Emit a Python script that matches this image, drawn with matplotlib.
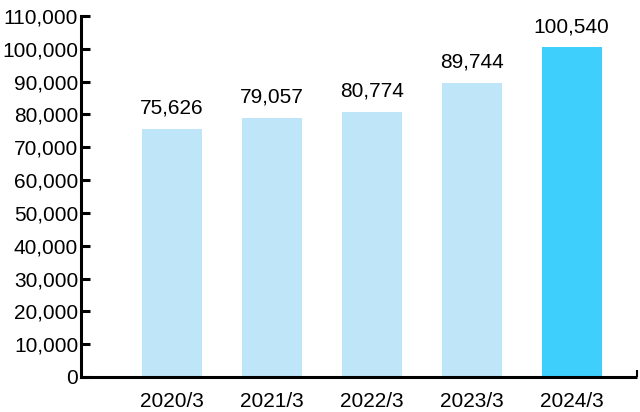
import matplotlib
matplotlib.use("Agg")
import matplotlib.pyplot as plt
from matplotlib.ticker import FuncFormatter, MultipleLocator

years = ["2020/3", "2021/3", "2022/3", "2023/3", "2024/3"]
values = [75626, 79057, 80774, 89744, 100540]
bar_colors = ["#bee5f8", "#bee5f8", "#bee5f8", "#bee5f8", "#3ecffc"]

plt.rcParams["font.family"] = ["Liberation Sans", "DejaVu Sans"]

fig = plt.figure(figsize=(6.4, 4.12), dpi=100)
ax = fig.add_axes([0.1266, 0.085, 0.868, 0.876])

x = list(range(len(years)))
ax.bar(x, values, width=0.6, color=bar_colors, zorder=2)

# value labels above bars
for xi, v in zip(x, values):
    ax.text(xi, v + 4600, f"{v:,}", ha="center", va="baseline", fontsize=15)

ax.set_xlim(-0.91, 4.65)
ax.set_ylim(0, 110000)
ax.yaxis.set_major_locator(MultipleLocator(10000))
ax.yaxis.set_major_formatter(FuncFormatter(lambda v, p: f"{int(v):,}"))
ax.set_xticks(x)
ax.set_xticklabels(years)

for side in ["top", "right"]:
    ax.spines[side].set_visible(False)
for side in ["left", "bottom"]:
    ax.spines[side].set_linewidth(2.2)
ax.spines["bottom"].set_capstyle("butt")

ax.tick_params(axis="y", direction="in", length=6.5, width=2.2, labelsize=15, pad=2)
ax.tick_params(axis="x", length=0, labelsize=15, pad=11)
# small end mark at right of x axis
ax.set_xticks([4.65], minor=True)
ax.tick_params(axis="x", which="minor", direction="in", length=5, width=1.5)

fig.savefig("out.png", dpi=100)
